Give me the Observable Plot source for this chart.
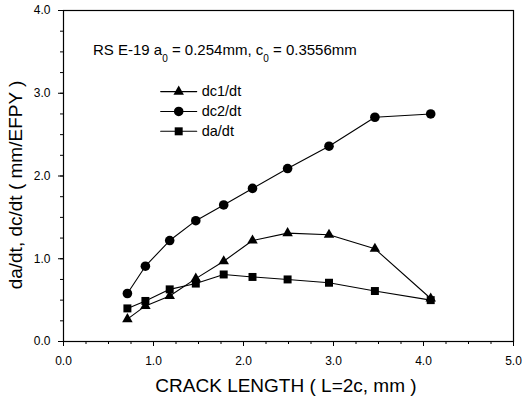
<!DOCTYPE html>
<html>
<head>
<meta charset="utf-8">
<script src="https://cdn.jsdelivr.net/npm/d3@7"></script>
<script src="https://cdn.jsdelivr.net/npm/@observablehq/plot@0.6"></script>
<style>
  html, body { margin: 0; padding: 0; background: #fff; }
  #chart svg { display: block; }
</style>
</head>
<body>
<div id="chart"></div>
<script>
const crackLength = [0.71, 0.91, 1.18, 1.47, 1.78, 2.10, 2.49, 2.95, 3.46, 4.08];
const dc1dt = [0.27, 0.43, 0.55, 0.76, 0.97, 1.22, 1.31, 1.29, 1.12, 0.52];
const dc2dt = [0.58, 0.91, 1.22, 1.46, 1.65, 1.85, 2.09, 2.36, 2.71, 2.75];
const dadt  = [0.40, 0.49, 0.63, 0.70, 0.81, 0.78, 0.75, 0.71, 0.61, 0.50];
const seriesNames = ["dc1/dt", "dc2/dt", "da/dt"];
const seriesSymbols = ["triangle", "circle", "square"];
const seriesR = [3.9, 4.8, 4.5];
const xMajorTicks = [0, 1, 2, 3, 4, 5];
const yMajorTicks = [0, 1, 2, 3, 4];
const legendX = [1.08, 1.28, 1.48];
const legendY = [3.02, 2.78, 2.54];

const seriesValues = [dc1dt, dc2dt, dadt];
const rows = [];
seriesNames.forEach((name, i) => {
  crackLength.forEach((x, j) => rows.push({series: name, x, y: seriesValues[i][j]}));
});

const font = "'Liberation Sans', Arial, sans-serif";
const marks = [
  Plot.frame({stroke: "#000", strokeWidth: 1.2}),
  Plot.axisX({ticks: d3.range(0, 5.001, 0.25), tickSize: 3, tickFormat: () => ""}),
  Plot.axisX({ticks: xMajorTicks, tickSize: 5, tickPadding: 10, tickFormat: d => d.toFixed(1), fontSize: 12, label: null}),
  Plot.axisY({ticks: d3.range(0, 4.001, 0.25), tickSize: 3, tickFormat: () => ""}),
  Plot.axisY({ticks: yMajorTicks, tickSize: 5, tickPadding: 8, tickFormat: d => d.toFixed(1), fontSize: 12, label: null})
];
seriesNames.forEach((name, i) => {
  const data = rows.filter(d => d.series === name);
  marks.push(Plot.line(data, {x: "x", y: "y", stroke: "#000", strokeWidth: 1.1}));
  marks.push(Plot.dot(data, {x: "x", y: "y", symbol: () => seriesSymbols[i], r: seriesR[i], fill: "#000", stroke: "none"}));
  const ly = legendY[i];
  marks.push(Plot.line([{x: legendX[0], y: ly}, {x: legendX[2], y: ly}], {x: "x", y: "y", stroke: "#000", strokeWidth: 1.1}));
  marks.push(Plot.dot([{x: legendX[1], y: ly}], {x: "x", y: "y", symbol: () => seriesSymbols[i], r: seriesR[i], fill: "#000", stroke: "none"}));
  marks.push(Plot.text([{x: legendX[2], y: ly}], {x: "x", y: "y", text: () => name, dx: 5, textAnchor: "start", fontSize: 14.5, fill: "#000"}));
});

const chart = Plot.plot({
  width: 523,
  height: 403,
  marginLeft: 63,
  marginRight: 10,
  marginTop: 10,
  marginBottom: 62,
  style: {fontFamily: font, fontSize: "12px", color: "#000", background: "#fff"},
  x: {domain: [0, 5], label: null},
  y: {domain: [0, 4], label: null},
  marks
});

const svg = d3.select(chart);
const ann = svg.append("text")
  .attr("x", 93).attr("y", 55)
  .attr("text-anchor", "start")
  .attr("font-family", font).attr("font-size", 15).attr("fill", "#000");
ann.append("tspan").text("RS E-19 a");
ann.append("tspan").attr("font-size", 10).attr("dy", 7).text("0");
ann.append("tspan").attr("dy", -7).text(" = 0.254mm, c");
ann.append("tspan").attr("font-size", 10).attr("dy", 7).text("0");
ann.append("tspan").attr("dy", -7).text(" = 0.3556mm");

svg.append("text")
  .attr("x", 286).attr("y", 392)
  .attr("text-anchor", "middle")
  .attr("font-family", font).attr("font-size", 19).attr("fill", "#000")
  .text("CRACK LENGTH ( L=2c, mm )");

svg.append("text")
  .attr("transform", "translate(22,185) rotate(-90)")
  .attr("text-anchor", "middle")
  .attr("font-family", font).attr("font-size", 19).attr("fill", "#000")
  .text("da/dt, dc/dt ( mm/EFPY )");

document.getElementById("chart").appendChild(chart);
</script>
</body>
</html>
